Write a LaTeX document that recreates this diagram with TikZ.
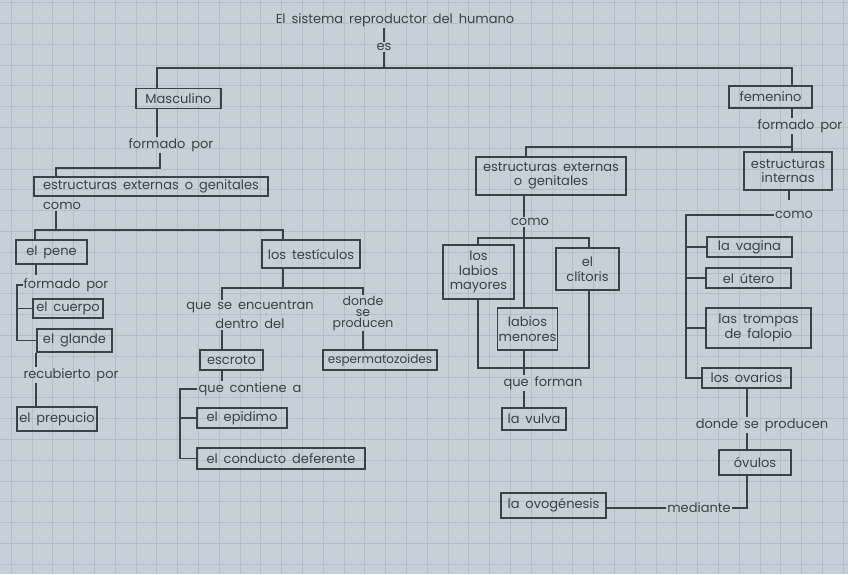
\documentclass[tikz,border=0pt]{standalone}
\usepackage{fontspec}
\setmainfont{Poppins}[WordSpace=1.7]
\definecolor{paper}{HTML}{C6D0D9}
\definecolor{gridc}{HTML}{B3BEC8}
\definecolor{ink}{HTML}{3A4148}
\begin{document}
\begin{tikzpicture}[x=1pt,y=-1pt]

\tikzset{every node/.style = {text=ink, font=\fontsize{13}{14.5}\selectfont}}
\tikzset{box/.style = {draw=ink, line width=1.2pt, inner sep=2pt, minimum height=20pt}}
\tikzset{lbl/.style = {inner sep=1pt}}
\tikzset{conn/.style = {draw=ink, line width=1.3pt}}
\tikzset{gridline/.style = {draw=gridc, line width=0.6pt}}

%paper
\fill[paper] (0,0) rectangle (848,574);
\useasboundingbox (0,0) rectangle (848,574);
\foreach \i in {0,...,40} \draw[gridline] (11+20.8*\i,0) -- (11+20.8*\i,574);
\foreach \j in {0,...,27} \draw[gridline] (0,2.5+20.8*\j) -- (848,2.5+20.8*\j);

%nodes
\node[lbl] (title) at (395,20) {El sistema reproductor del humano};
\node[lbl] (es) at (384,47) {es};
\node[box, minimum width=85pt] (masc) at (178.5,98.5) {Masculino};
\node[box, minimum width=83pt, minimum height=22pt] (fem) at (770.5,97) {femenino};

\node[lbl] (formM) at (171,145) {formado por};
\node[box, minimum width=234pt, minimum height=19pt] (extM) at (151,186.5) {estructuras externas o genitales};
\node[lbl] (comoM) at (62,206) {como};
\node[box, minimum width=71pt, minimum height=24pt] (pene) at (51.5,252) {el pene};
\node[box, minimum width=98pt, minimum height=28pt] (test) at (311,254) {los testículos};
\node[lbl] (formP) at (66,285) {formado por};
\node[box, minimum width=70pt, minimum height=19pt] (cuerpo) at (68,308.5) {el cuerpo};
\node[box, minimum width=75pt, minimum height=23pt] (glande) at (74.5,340.5) {el glande};
\node[lbl] (recub) at (71,375) {recubierto por};
\node[box, minimum width=80pt, minimum height=24pt] (prep) at (57,419) {el prepucio};
\node[lbl, align=center, font=\fontsize{13}{19}\selectfont] (encu) at (250,315) {que se encuentran\\dentro del};
\node[lbl, align=center, font=\fontsize{12.5}{11}\selectfont] (donde) at (363,313) {donde\\se\\producen};
\node[box, minimum width=63pt] (escroto) at (231.5,360) {escroto};
\node[box, minimum width=114pt, inner sep=1pt, font=\fontsize{12}{14}\selectfont] (esperm) at (380,360) {espermatozoides};
\node[lbl] (cont) at (250,389) {que contiene a};
\node[box, minimum width=90pt] (epid) at (242,418) {el epidimo};
\node[box, minimum width=168pt, minimum height=21pt] (deferente) at (281,458.5) {el conducto deferente};

\node[lbl] (formF) at (800,126) {formado por};
\node[box, align=center, minimum width=150pt, minimum height=38pt] (extF) at (551,176) {estructuras externas\\o genitales};
\node[box, align=center, minimum width=88pt, minimum height=38pt] (intF) at (788,171) {estructuras\\internas};
\node[lbl] (comoF) at (530,222) {como};
\node[box, align=center, minimum width=71pt, minimum height=54pt] (mayores) at (478.5,272) {los\\labios\\mayores};
\node[box, align=center, minimum width=63pt, minimum height=42pt] (clit) at (587.5,269) {el\\clítoris};
\node[box, align=center, minimum width=53pt, minimum height=42pt, inner sep=1pt] (menores) at (527.5,329) {labios\\menores};
\node[lbl] (forman) at (543,383) {que forman};
\node[box, minimum width=64pt, minimum height=22pt] (vulva) at (534,419) {la vulva};
\node[lbl] (comoI) at (794,215) {como};
\node[box, minimum width=85pt] (vagina) at (749.5,247) {la vagina};
\node[box, minimum width=85pt] (utero) at (748.5,278) {el útero};
\node[box, align=center, minimum width=105pt, minimum height=40pt] (trompas) at (758.5,328) {las trompas\\de falopio};
\node[box, minimum width=89pt] (ovarios) at (746.5,378) {los ovarios};
\node[lbl] (dondeF) at (762,425) {donde se producen};
\node[box, minimum width=72pt, minimum height=25pt] (ovulos) at (755,462.5) {óvulos};
\node[lbl] (mediante) at (699,508) {mediante};
\node[box, minimum width=105pt, minimum height=25pt] (ovog) at (553.5,505.5) {la ovogénesis};

%junctions
\coordinate (tl) at (157,68);
\coordinate (tr) at (792,68);
\coordinate (m1) at (160,168);
\coordinate (m2) at (56,168);
\coordinate (m3) at (35,230);
\coordinate (m4) at (283,230);
\coordinate (m5) at (56,230);
\coordinate (m6) at (36,275);
\coordinate (b1) at (17,285);
\coordinate (t1) at (222,288);
\coordinate (t2) at (363,288);
\coordinate (b2) at (180,389);
\coordinate (f1) at (526,147);
\coordinate (f2) at (792,147);
\coordinate (c1) at (478,238);
\coordinate (c2) at (524,238);
\coordinate (c3) at (589,238);
\coordinate (c4) at (478,368);
\coordinate (c5) at (589,368);
\coordinate (i1) at (789,200);
\coordinate (i2) at (686,215);
\coordinate (o1) at (747,408);
\coordinate (o2) at (747,508);

%edges
\draw[conn] (title.south -| es) -- (es.north);
\draw[conn] (es.south) -- (es.south |- tl);
\draw[conn] (masc.north -| tl) -- (tl) -- (tr) -- (fem.north -| tr);
\draw[conn] (masc.south -| tl) -- (formM.north -| tl);
\draw[conn] (formM.south -| m1) -- (m1) -- (m2) -- (extM.north -| m2);
\draw[conn] (comoM.south -| m5) -- (m5);
\draw[conn] (pene.north -| m3) -- (m3) -- (m4) -- (test.north -| m4);
\draw[conn] (pene.south -| m6) -- (m6);
\draw[conn] (formP.west) -- (b1) -- (b1 |- glande) -- (glande.west);
\draw[conn] (b1 |- cuerpo) -- (cuerpo.west);
\draw[conn] (glande.south -| m6) -- (recub.north -| m6);
\draw[conn] (recub.south -| m6) -- (prep.north -| m6);
\draw[conn] (test.south -| m4) -- (m4 |- t1);
\draw[conn] (encu.north -| t1) -- (t1) -- (t2) -- (donde.north -| t2);
\draw[conn] (encu.south -| t1) -- (escroto.north -| t1);
\draw[conn] (donde.south -| t2) -- (esperm.north -| t2);
\draw[conn] (escroto.south -| t1) -- (cont.north -| t1);
\draw[conn] (cont.west) -- (b2) -- (b2 |- deferente) -- (deferente.west);
\draw[conn] (b2 |- epid) -- (epid.west);

\draw[conn] (fem.south -| tr) -- (formF.north -| tr);
\draw[conn] (formF.south -| f2) -- (f2) -- (f1) -- (extF.north -| f1);
\draw[conn] (f2) -- (intF.north -| f2);
\draw[conn] (extF.south -| c2) -- (comoF.north -| c2);
\draw[conn] (comoF.south -| c2) -- (menores.north -| c2);
\draw[conn] (mayores.north -| c1) -- (c1) -- (c3) -- (clit.north -| c3);
\draw[conn] (mayores.south -| c4) -- (c4) -- (c5) -- (clit.south -| c5);
\draw[conn] (menores.south -| c2) -- (forman.north -| c2);
\draw[conn] (forman.south -| c2) -- (vulva.north -| c2);
\draw[conn] (intF.south -| i1) -- (i1);
\draw[conn] (comoI.west) -- (i2) -- (i2 |- ovarios) -- (ovarios.west);
\draw[conn] (i2 |- vagina) -- (vagina.west);
\draw[conn] (i2 |- utero) -- (utero.west);
\draw[conn] (i2 |- trompas) -- (trompas.west);
\draw[conn] (ovarios.south -| o1) -- (dondeF.north -| o1);
\draw[conn] (dondeF.south -| o1) -- (ovulos.north -| o1);
\draw[conn] (ovulos.south -| o2) -- (o2) -- (mediante.east);
\draw[conn] (mediante.west) -- (mediante.west -| ovog.east);

\end{tikzpicture}
\end{document}
